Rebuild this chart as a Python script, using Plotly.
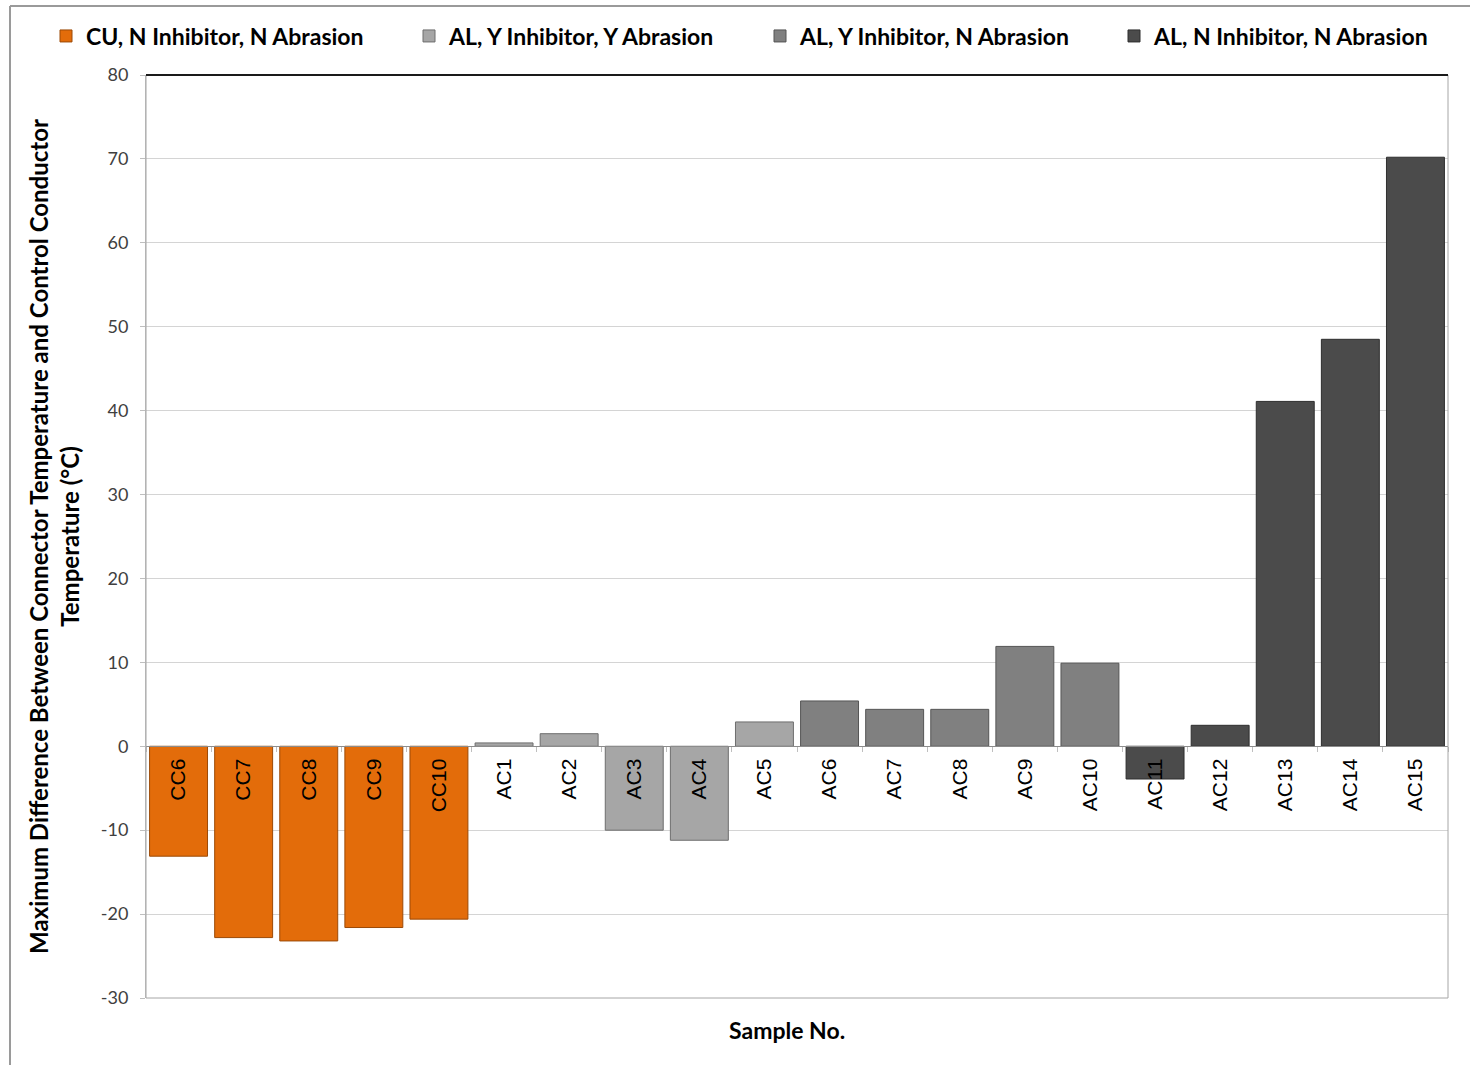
import plotly.graph_objects as go

# Sample groups and their maximum temperature differences (°C)
cu_nn_samples = ["CC6", "CC7", "CC8", "CC9", "CC10"]
cu_nn_values = [-13.1, -22.8, -23.2, -21.6, -20.6]

al_yy_samples = ["AC1", "AC2", "AC3", "AC4", "AC5"]
al_yy_values = [0.4, 1.5, -10.0, -11.2, 2.9]

al_yn_samples = ["AC6", "AC7", "AC8", "AC9", "AC10"]
al_yn_values = [5.4, 4.4, 4.4, 11.9, 9.9]

al_nn_samples = ["AC11", "AC12", "AC13", "AC14", "AC15"]
al_nn_values = [-3.9, 2.5, 41.1, 48.5, 70.2]

series_names = [
    "CU, N Inhibitor, N Abrasion",
    "AL, Y Inhibitor, Y Abrasion",
    "AL, Y Inhibitor, N Abrasion",
    "AL, N Inhibitor, N Abrasion",
]
series_colors = ["#E36C0A", "#A6A6A6", "#808080", "#4B4B4B"]
series_edges = ["#9C4A07", "#6E6E6E", "#555555", "#2E2E2E"]

y_ticks = [-30, -20, -10, 0, 10, 20, 30, 40, 50, 60, 70, 80]
y_tick_text = ["-30", "-20", "-10", "0", "10", "20", "30", "40", "50", "60", "70", "80"]

all_samples = cu_nn_samples + al_yy_samples + al_yn_samples + al_nn_samples
y_min, y_max = -30, 80

# plot area geometry in pixels
L, R, T, B = 146, 1448, 75, 998
W, H = 1470, 1065
def px_x(p):
    return (p - L) / (R - L)
def px_y(p):
    return (B - p) / (B - T)

legend_ids = ["legend", "legend2", "legend3", "legend4"]
legend_left_px = [46, 409, 760, 1114]

fig = go.Figure()
for name, xs, ys, color, edge, lg in zip(
    series_names,
    [cu_nn_samples, al_yy_samples, al_yn_samples, al_nn_samples],
    [cu_nn_values, al_yy_values, al_yn_values, al_nn_values],
    series_colors,
    series_edges,
    legend_ids,
):
    fig.add_trace(go.Bar(
        x=xs, y=ys, name=name, legend=lg,
        marker=dict(color=color, line=dict(color=edge, width=1)),
    ))

legend_font = dict(size=23, family="Lato, sans-serif", color="#000000", weight="bold")
legend_layouts = {}
for lg, lx in zip(legend_ids, legend_left_px):
    legend_layouts[lg] = dict(
        orientation="h",
        x=px_x(lx), xanchor="left",
        y=px_y(36), yanchor="middle",
        font=legend_font,
        bgcolor="rgba(0,0,0,0)",
        itemwidth=30,
    )

fig.update_layout(
    width=W, height=H,
    margin=dict(l=L, r=W - R, t=T, b=H - B, autoexpand=False),
    paper_bgcolor="white",
    plot_bgcolor="white",
    barmode="relative",
    bargap=0.11,
    font=dict(family="Lato, 'Open Sans', sans-serif", color="#000000"),
    showlegend=True,
    xaxis=dict(
        type="category",
        categoryorder="array",
        categoryarray=all_samples,
        anchor="free",
        position=(0 - y_min) / (y_max - y_min),
        showline=True, linecolor="#8C8C8C", linewidth=1,
        ticks="outside", tickson="boundaries", ticklen=5, tickcolor="#BFBFBF",
        tickangle=-90,
        ticklabelstandoff=3,
        tickfont=dict(size=21, color="#000000", family="Liberation Sans, Arial, sans-serif"),
        showgrid=False,
        zeroline=False,
    ),
    yaxis=dict(
        range=[y_min, y_max],
        tickmode="array", tickvals=y_ticks, ticktext=y_tick_text,
        showgrid=True, gridcolor="#D4D4D4", gridwidth=1,
        zeroline=False,
        showline=True, linecolor="#BFBFBF", linewidth=1,
        ticks="outside", ticklen=5, tickcolor="#BFBFBF",
        ticklabelstandoff=8,
        tickfont=dict(size=18, color="#404040"),
        title=dict(
            text="Maximum Difference Between Connector Temperature and Control Conductor<br>Temperature (°C)",
            font=dict(size=24, color="#000000", weight="bold"),
            standoff=14,
        ),
    ),
    annotations=[
        dict(
            text="Sample No.", x=px_x(787), xref="paper", y=px_y(1030), yref="paper",
            xanchor="center", yanchor="middle", showarrow=False,
            font=dict(size=23, color="#000000", weight="bold"),
        )
    ],
    shapes=[
        # plot area border
        dict(type="rect", xref="paper", yref="paper", x0=0, x1=1, y0=0, y1=1,
             line=dict(color="#A6A6A6", width=1), layer="above"),
        # dark top edge
        dict(type="line", xref="paper", yref="paper", x0=0, x1=1, y0=1, y1=1,
             line=dict(color="#1A1A1A", width=2), layer="above"),
        # chart outer frame
        dict(type="line", xref="paper", yref="paper",
             x0=px_x(10), x1=px_x(1472), y0=px_y(6), y1=px_y(6),
             line=dict(color="#9A9A9A", width=2)),
        dict(type="line", xref="paper", yref="paper",
             x0=px_x(10), x1=px_x(10), y0=px_y(6), y1=px_y(1067),
             line=dict(color="#9A9A9A", width=2)),
    ],
    **legend_layouts,
)

fig.write_html("out.html")
